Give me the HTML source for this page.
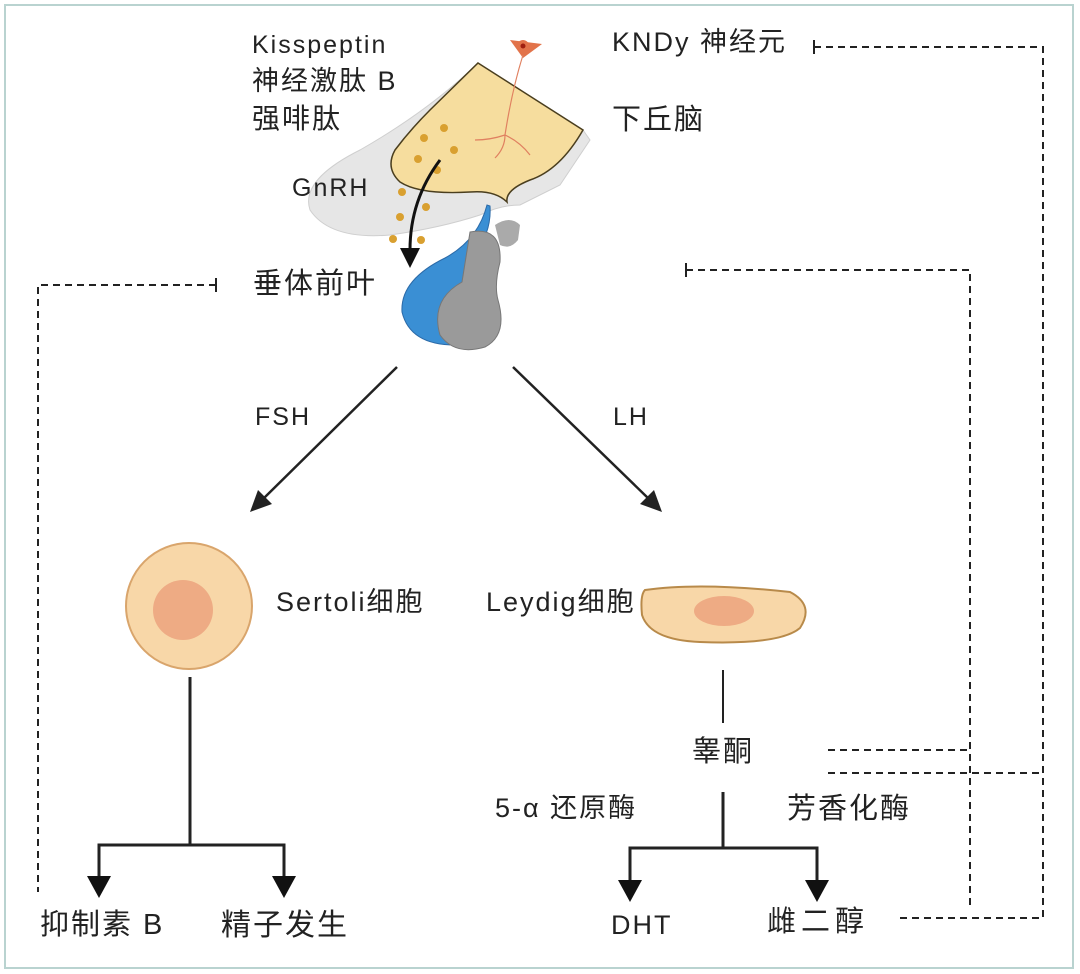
<!DOCTYPE html>
<html><head><meta charset="utf-8"><style>
html,body{margin:0;padding:0;background:#fff}
body{width:1080px;height:974px;position:relative;overflow:hidden;font-family:"Liberation Sans","Noto Sans CJK SC",sans-serif;color:#222}
.t{position:absolute;white-space:nowrap;line-height:1;letter-spacing:2px}
</style></head><body>
<svg width="1080" height="974" style="position:absolute;left:0;top:0">
<rect x="5" y="5" width="1068" height="963" fill="none" stroke="#b9d3d0" stroke-width="2"/>
<!-- brain gray -->
<path d="M478 63 Q430 110 360 150 Q300 180 310 210 Q330 240 390 235 Q440 228 480 215 Q500 205 520 205 L560 185 L590 140 L583 130 Z" fill="#e6e6e6" stroke="#cfcfcf"/>
<!-- cream -->
<path d="M478 63 L583 130 Q560 170 530 180 Q505 190 507 202 Q495 190 470 192 Q420 195 400 182 Q385 168 395 150 Q410 130 430 110 Z" fill="#f6dd9e" stroke="#4a3e1e" stroke-width="1.5"/>
<path d="M495 225 Q510 215 520 225 L518 240 Q510 250 500 245Z" fill="#aaa"/>
<path d="M487 205 Q478 240 445 258 Q400 280 402 312 Q410 345 455 345 L470 345 L470 260 Q492 235 490 206Z" fill="#3a8fd4" stroke="#2b6aa8"/>
<path d="M470 232 Q502 226 500 262 Q494 285 498 300 Q508 335 485 347 Q455 356 440 335 Q430 300 462 282 Z" fill="#9a9a9a" stroke="#777"/>
<circle cx="523" cy="46" r="6" fill="#e2734a"/><path d="M510 40 L542 44 L523 58Z" fill="#e2734a"/><circle cx="523" cy="46" r="2.5" fill="#a02010"/>
<path d="M523 55 Q512 90 505 135 M505 135 Q490 140 475 140 M505 135 Q520 142 530 155 M505 135 Q505 148 495 158" stroke="#e08060" fill="none" stroke-width="1.2"/>
<g fill="#d9a030"><circle cx="424" cy="138" r="4"/><circle cx="444" cy="128" r="4"/><circle cx="418" cy="159" r="4"/><circle cx="454" cy="150" r="4"/><circle cx="402" cy="192" r="4"/><circle cx="437" cy="170" r="4"/><circle cx="426" cy="207" r="4"/><circle cx="400" cy="217" r="4"/><circle cx="393" cy="239" r="4"/><circle cx="421" cy="240" r="4"/></g>
<path d="M440 160 Q410 200 410 250" stroke="#111" stroke-width="3" fill="none"/><path d="M400 248 L420 248 L410 268Z" fill="#111"/>
<g stroke="#222" stroke-width="2.5" fill="none"><line x1="397" y1="367" x2="262" y2="500"/><line x1="513" y1="367" x2="650" y2="500"/></g>
<path d="M250 512 L258 490 L272 504Z" fill="#222"/><path d="M662 512 L640 504 L654 490Z" fill="#222"/>
<circle cx="189" cy="606" r="63" fill="#f8d7a8" stroke="#d9a56c" stroke-width="2"/>
<circle cx="183" cy="610" r="30" fill="#eeab84"/>
<path d="M645 590 Q700 582 790 592 Q815 605 800 628 Q780 645 700 642 Q650 640 642 615 Q640 595 645 590Z" fill="#f8d7a8" stroke="#b88a4a" stroke-width="2"/>
<ellipse cx="724" cy="611" rx="30" ry="15" fill="#eeab84"/>
<g stroke="#222" stroke-width="3" fill="none">
<line x1="190" y1="677" x2="190" y2="845"/><polyline points="99,878 99,845 284,845 284,878"/>
<line x1="723" y1="792" x2="723" y2="848"/><polyline points="630,880 630,848 817,848 817,880"/>
</g>
<line x1="723" y1="670" x2="723" y2="723" stroke="#222" stroke-width="2"/>
<g fill="#111"><path d="M87 876 L111 876 L99 898Z"/><path d="M272 876 L296 876 L284 898Z"/><path d="M618 880 L642 880 L630 902Z"/><path d="M805 880 L829 880 L817 902Z"/></g>
<g stroke="#222" stroke-width="2" fill="none" stroke-dasharray="7,5">
<polyline points="814,47 1043,47 1043,918 900,918"/>
<polyline points="686,270 970,270 970,905"/>
<line x1="828" y1="750" x2="970" y2="750"/>
<line x1="828" y1="773" x2="1043" y2="773"/>
<polyline points="216,285 38,285 38,892"/>
</g>
<g stroke="#222" stroke-width="2"><line x1="814" y1="40" x2="814" y2="54"/><line x1="686" y1="263" x2="686" y2="277"/><line x1="216" y1="278" x2="216" y2="292"/></g>
</svg>
<div class="t" style="left:252px;top:33px;font-size:25px">Kisspeptin</div>
<div class="t" style="left:252px;top:68px;font-size:27px">神经激肽 B</div>
<div class="t" style="left:252px;top:105px;font-size:28px">强啡肽</div>
<div class="t" style="left:292px;top:176px;font-size:25px">GnRH</div>
<div class="t" style="left:253px;top:270px;font-size:29px">垂体前叶</div>
<div class="t" style="left:612px;top:29px;font-size:27px">KNDy 神经元</div>
<div class="t" style="left:612px;top:106px;font-size:29px">下丘脑</div>
<div class="t" style="left:255px;top:405px;font-size:25px">FSH</div>
<div class="t" style="left:613px;top:405px;font-size:25px">LH</div>
<div class="t" style="left:276px;top:589px;font-size:27px">Sertoli细胞</div>
<div class="t" style="left:486px;top:589px;font-size:27px">Leydig细胞</div>
<div class="t" style="left:692px;top:738px;font-size:29px">睾酮</div>
<div class="t" style="left:495px;top:795px;font-size:27px">5-α 还原酶</div>
<div class="t" style="left:787px;top:795px;font-size:29px">芳香化酶</div>
<div class="t" style="left:40px;top:911px;font-size:29px">抑制素 B</div>
<div class="t" style="left:221px;top:911px;font-size:30px">精子发生</div>
<div class="t" style="left:611px;top:912px;font-size:27px">DHT</div>
<div class="t" style="left:767px;top:908px;font-size:29px;letter-spacing:5px">雌二醇</div>
</body></html>
